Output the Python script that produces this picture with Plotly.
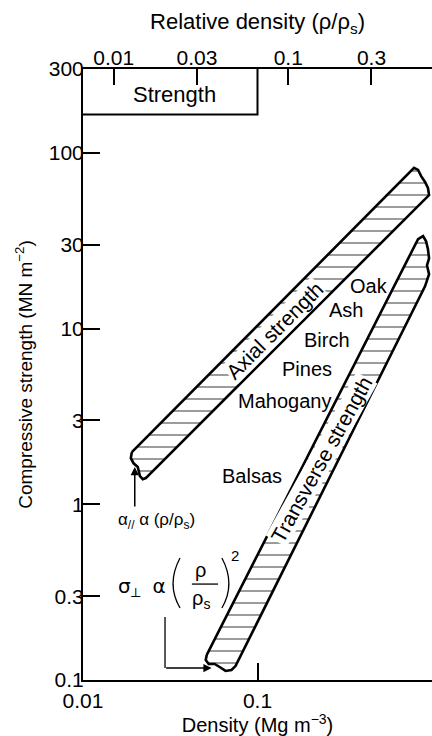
import math
import plotly.graph_objects as go

# ---------------- data ----------------
# Axial-strength band outline: density (Mg m^-3), compressive strength (MN m^-2)
axial_density = [0.01905, 0.769, 0.789, 0.832, 0.865, 0.912, 0.948, 0.962,
                 0.0229, 0.0220, 0.0212, 0.0206, 0.0195, 0.0188, 0.01905]
axial_strength = [1.98, 81.1, 82.1, 80.0, 73.9, 68.3, 63.1, 57.5,
                  1.41, 1.39, 1.445, 1.63, 1.71, 1.83, 1.98]

# Transverse-strength band outline
trans_density = [0.0512, 0.832, 0.889, 0.925, 0.948, 0.962, 0.936, 0.962, 0.912,
                 0.0748, 0.0709, 0.0656, 0.0607, 0.0568, 0.0525, 0.0505, 0.0512]
trans_strength = [0.139, 32.3, 33.6, 31.4, 28.3, 25.1, 22.9, 20.4, 17.4,
                  0.120, 0.114, 0.1126, 0.1186, 0.1234, 0.1234, 0.130, 0.139]

# "Strength" key box (density, strength)
box_density = [0.1, 0.1, 0.01]
box_strength = [300, 165, 165]

# Wood species labels (density, strength position)
species = ["Oak", "Ash", "Birch", "Pines", "Mahogany", "Balsas"]
species_density = [0.437, 0.323, 0.251, 0.193, 0.1426, 0.0925]
species_strength = [17.4, 12.7, 8.65, 5.9, 3.88, 1.445]

# Axes
density_ticks = [0.01, 0.1]
density_ticktext = ["0.01", "0.1"]
strength_ticks = [0.1, 0.3, 1, 3, 10, 30, 100, 300]
strength_ticktext = ["0.1", "0.3", "1", "3", "10", "30", "100", "300"]
rel_density_ticks = [0.01, 0.03, 0.1, 0.3]
rel_density_ticktext = ["0.01", "0.03", "0.1", "0.3"]
rho_solid = 1.5
density_range = [0.01, 1.0]
strength_range = [0.1, 300]

FONT = "Liberation Sans, Arial, sans-serif"
L = math.log10

fig = go.Figure()

hatch = dict(shape="-", size=12, solidity=0.13, fgcolor="black", bgcolor="white")

fig.add_trace(go.Scatter(x=axial_density, y=axial_strength, mode="lines",
                         fill="toself", fillpattern=hatch,
                         line=dict(color="black", width=2.6),
                         hoverinfo="skip", showlegend=False))
fig.add_trace(go.Scatter(x=trans_density, y=trans_strength, mode="lines",
                         fill="toself", fillpattern=hatch,
                         line=dict(color="black", width=2.6),
                         hoverinfo="skip", showlegend=False))
fig.add_trace(go.Scatter(x=box_density, y=box_strength, mode="lines",
                         line=dict(color="black", width=2),
                         cliponaxis=False, hoverinfo="skip", showlegend=False))
# helper trace so the top (relative density) axis is drawn
fig.add_trace(go.Scatter(x=rel_density_ticks, y=[strength_range[0]] * len(rel_density_ticks),
                         xaxis="x2", mode="markers", marker=dict(opacity=0),
                         hoverinfo="skip", showlegend=False))

ann = []
def txt(x, y, text, size=20, angle=0, bg=None, family=FONT):
    d = dict(x=L(x), y=L(y), xref="x", yref="y", text=text, showarrow=False,
             textangle=angle, font=dict(family=family, size=size, color="black"),
             borderpad=0)
    if bg:
        d["bgcolor"] = bg
    ann.append(d)

txt(0.0336, 214, "Strength", size=22)
for name, dx, sy in zip(species, species_density, species_strength):
    txt(dx, sy, name, size=20)
txt(0.125, 9.75, "Axial strength", size=21, angle=-45, bg="white")
txt(0.232, 1.81, "Transverse strength", size=21, angle=-61, bg="white")

# sigma_parallel relation and arrow
txt(0.0265, 0.80, "α<sub>//</sub> α (ρ/ρ<sub>s</sub>)", size=17)
ann.append(dict(x=L(0.0198), y=L(1.63), xref="x", yref="y", ax=0, ay=41,
                showarrow=True, arrowhead=2, arrowsize=1.1, arrowwidth=1.5,
                arrowcolor="black", text=""))

# sigma_perp relation
txt(0.0217, 0.34, "σ<sub>⟂</sub>  α", size=20, family="DejaVu Sans, Liberation Sans")
txt(0.0472, 0.425, "ρ", size=20)
txt(0.0472, 0.286, "ρ<sub>s</sub>", size=20)
txt(0.074, 0.512, "2", size=15)
ann.append(dict(x=L(0.0546), y=L(0.117), xref="x", yref="y", ax=-47, ay=0,
                showarrow=True, arrowhead=2, arrowsize=1.1, arrowwidth=1.5,
                arrowcolor="black", text=""))

shapes = [
    # fraction bar
    dict(type="line", xref="paper", yref="paper", x0=0.312, x1=0.387, y0=0.157, y1=0.157,
         line=dict(color="black", width=1.3)),
    # parentheses
    dict(type="path", xref="paper", yref="paper",
         path="M 0.278,0.1997 Q 0.238,0.157 0.278,0.1178", line=dict(color="black", width=1.3)),
    dict(type="path", xref="paper", yref="paper",
         path="M 0.398,0.1997 Q 0.438,0.157 0.398,0.1178", line=dict(color="black", width=1.3)),
    # leader line of the lower arrow
    dict(type="line", xref="paper", yref="paper", x0=0.235, x1=0.235, y0=0.103, y1=0.0196,
         line=dict(color="black", width=1.3)),
]

axis_common = dict(type="log", showgrid=False, zeroline=False, showline=True,
                   linecolor="black", ticks="inside", tickcolor="black",
                   automargin=False,
                   tickfont=dict(family=FONT, size=21, color="black"))

fig.update_layout(
    width=432, height=736,
    margin=dict(l=83, r=0, t=69, b=56),
    paper_bgcolor="white", plot_bgcolor="white",
    font=dict(family=FONT, size=20, color="black"),
    xaxis=dict(axis_common, range=[L(density_range[0]), L(density_range[1])],
               tickvals=density_ticks, ticktext=density_ticktext,
               ticklen=17, tickwidth=1.5, linewidth=2, ticklabelstandoff=1,
               title=dict(text="Density (Mg m<sup>−3</sup>)", standoff=6,
                          font=dict(family=FONT, size=20))),
    yaxis=dict(axis_common, range=[L(strength_range[0]), L(strength_range[1])],
               tickvals=strength_ticks, ticktext=strength_ticktext,
               ticklen=17, tickwidth=1.5, linewidth=2, ticklabelstandoff=-7,
               title=dict(text="Compressive strength (MN m<sup>−2</sup>)", standoff=11,
                          font=dict(family=FONT, size=19))),
    xaxis2=dict(axis_common, overlaying="x", side="top", anchor="y",
                range=[L(density_range[0] / rho_solid), L(density_range[1] / rho_solid)],
                tickvals=rel_density_ticks, ticktext=rel_density_ticktext,
                ticklen=16, tickwidth=1.5, linewidth=1.5, ticklabelstandoff=-6,
                title=dict(text="Relative density (ρ/ρ<sub>s</sub>)", standoff=10,
                           font=dict(family=FONT, size=22))),
    annotations=ann,
    shapes=shapes,
)

fig.write_html("out.html", config={"displayModeBar": False},
               post_script="document.body.style.margin='0';")
